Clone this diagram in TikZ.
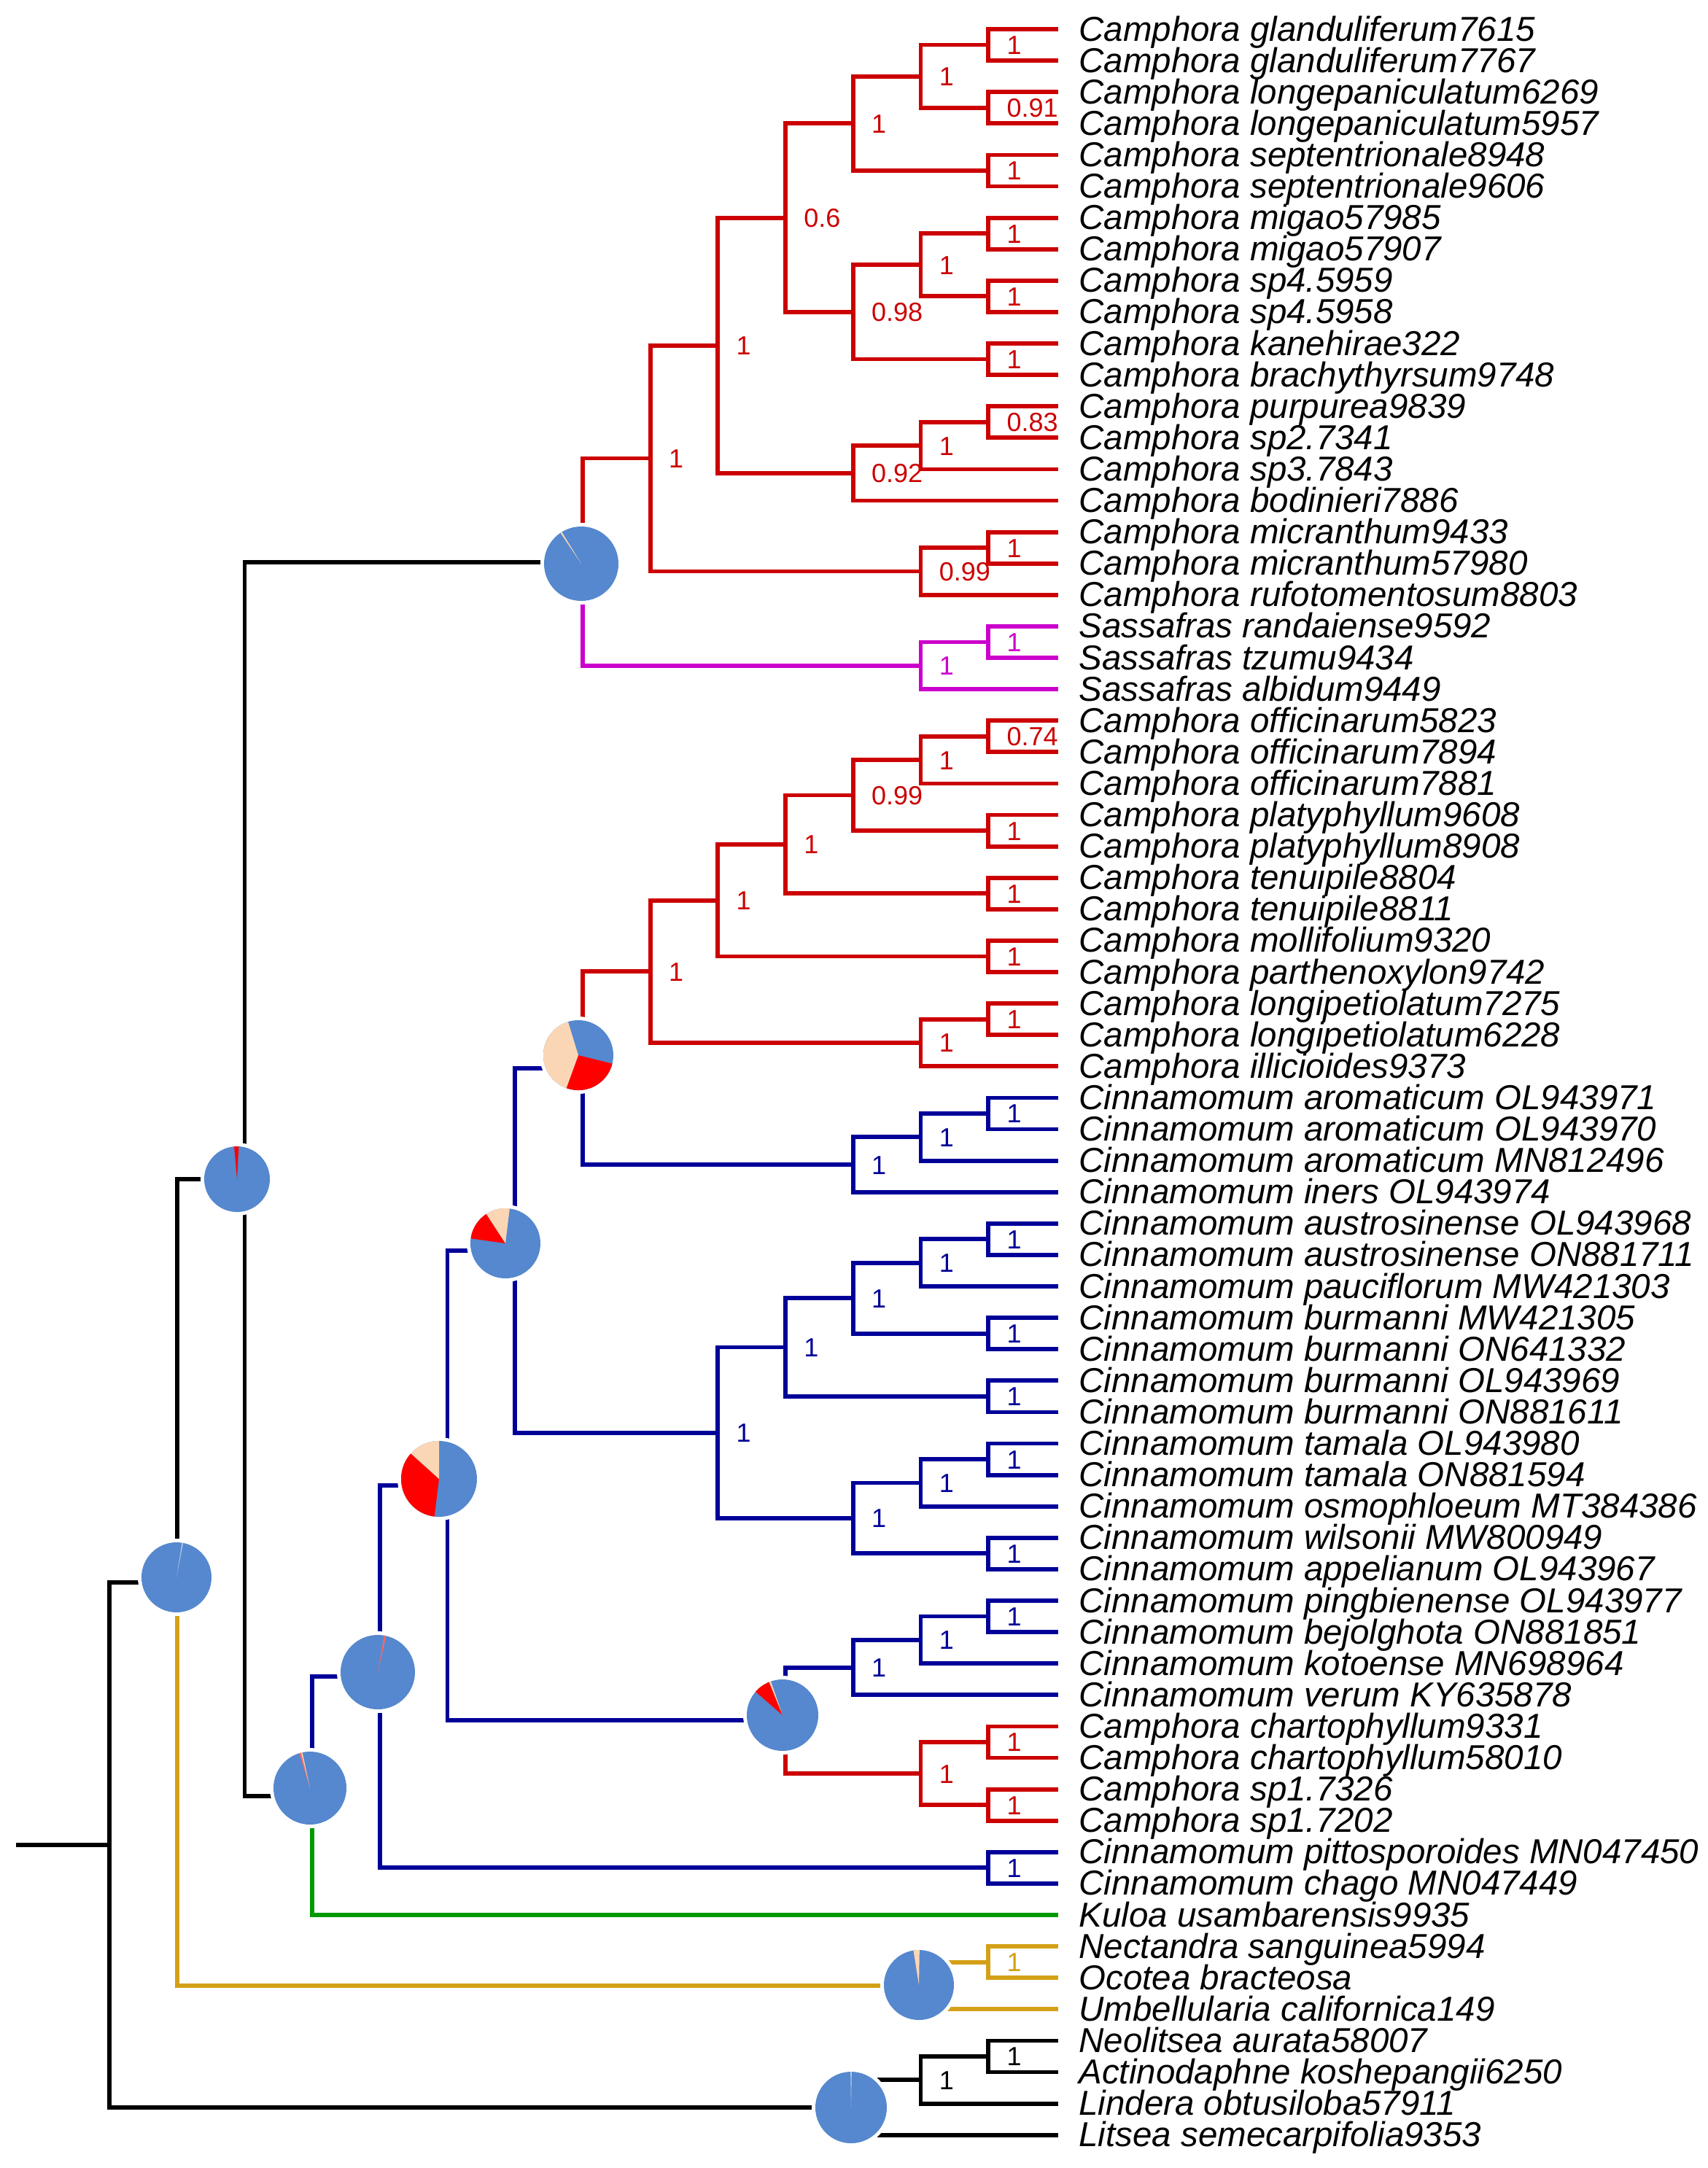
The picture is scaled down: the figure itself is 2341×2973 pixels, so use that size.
\documentclass[tikz,border=0pt]{standalone}
\usepackage{fontspec}
\setmainfont{Liberation Sans}
\usetikzlibrary{calc}
\definecolor{cred}{RGB}{204,0,0}
\definecolor{cblue}{RGB}{0,0,153}
\definecolor{cmag}{RGB}{204,0,204}
\definecolor{cgreen}{RGB}{0,153,0}
\definecolor{cgold}{RGB}{212,160,23}
\definecolor{pblue}{RGB}{85,136,206}
\definecolor{pred}{RGB}{255,0,0}
\definecolor{ppeach}{RGB}{251,214,180}
\tikzset{
  br/.style={line width=2.9pt, line join=miter},
  leaf/.style={font=\fontsize{23.75}{24}\selectfont\itshape, anchor=base west, inner sep=0pt},
  suplab/.style={font=\fontsize{18}{18}\selectfont, inner sep=0pt, anchor=base west}
}
% clade: name, column, child1, child2, colour1, colour2, label, label colour
\newcommand\cl[8]{%
  \path let \p1=(#3), \p2=(#4) in ({(150+92.7*#2)*0.5pt},{0.5*\y1+0.5*\y2}) coordinate (#1);
  \draw[br,#5] (#3) -| (#1);
  \draw[br,#6] (#1) |- (#4);
  \def\tmp{#7}\ifx\tmp\empty\else
  \node[suplab,text=#8] (s-#1) at ([shift={(25,13)}]#1) {#7};
  \fi}
% pie: name, x, y, r, slices (start/end/colour, clockwise from top)
\newcommand\pie[5]{%
  \coordinate (#1) at (#2,#3);
  \fill[white] (#1) circle[radius={(#4+5)*0.5pt}];
  \fill[pblue] (#1) circle[radius={#4*0.5pt}];
  \foreach \a/\b/\c in {#5}{%
    \pgfmathsetmacro\pa{\a-90}\pgfmathsetmacro\pb{\b-90}%
    \fill[\c] (#1) -- plot[domain=\pa:\pb,samples=40,variable=\t] ([shift={(\t:#4)}]#1) -- cycle;
  }}
\begin{document}
\begin{tikzpicture}[x=0.5pt,y=-0.5pt]
\fill[white] (0,0) rectangle (2341,2973);
\useasboundingbox (0,0) rectangle (2341,2973);
\foreach \i/\t in {
1/Camphora glanduliferum7615,
2/Camphora glanduliferum7767,
3/Camphora longepaniculatum6269,
4/Camphora longepaniculatum5957,
5/Camphora septentrionale8948,
6/Camphora septentrionale9606,
7/Camphora migao57985,
8/Camphora migao57907,
9/Camphora sp4.5959,
10/Camphora sp4.5958,
11/Camphora kanehirae322,
12/Camphora brachythyrsum9748,
13/Camphora purpurea9839,
14/Camphora sp2.7341,
15/Camphora sp3.7843,
16/Camphora bodinieri7886,
17/Camphora micranthum9433,
18/Camphora micranthum57980,
19/Camphora rufotomentosum8803,
20/Sassafras randaiense9592,
21/Sassafras tzumu9434,
22/Sassafras albidum9449,
23/Camphora officinarum5823,
24/Camphora officinarum7894,
25/Camphora officinarum7881,
26/Camphora platyphyllum9608,
27/Camphora platyphyllum8908,
28/Camphora tenuipile8804,
29/Camphora tenuipile8811,
30/Camphora mollifolium9320,
31/Camphora parthenoxylon9742,
32/Camphora longipetiolatum7275,
33/Camphora longipetiolatum6228,
34/Camphora illicioides9373,
35/Cinnamomum aromaticum OL943971,
36/Cinnamomum aromaticum OL943970,
37/Cinnamomum aromaticum MN812496,
38/Cinnamomum iners OL943974,
39/Cinnamomum austrosinense OL943968,
40/Cinnamomum austrosinense ON881711,
41/Cinnamomum pauciflorum MW421303,
42/Cinnamomum burmanni MW421305,
43/Cinnamomum burmanni ON641332,
44/Cinnamomum burmanni OL943969,
45/Cinnamomum burmanni ON881611,
46/Cinnamomum tamala OL943980,
47/Cinnamomum tamala ON881594,
48/Cinnamomum osmophloeum MT384386,
49/Cinnamomum wilsonii MW800949,
50/Cinnamomum appelianum OL943967,
51/Cinnamomum pingbienense OL943977,
52/Cinnamomum bejolghota ON881851,
53/Cinnamomum kotoense MN698964,
54/Cinnamomum verum KY635878,
55/Camphora chartophyllum9331,
56/Camphora chartophyllum58010,
57/Camphora sp1.7326,
58/Camphora sp1.7202,
59/Cinnamomum pittosporoides MN047450,
60/Cinnamomum chago MN047449,
61/Kuloa usambarensis9935,
62/Nectandra sanguinea5994,
63/Ocotea bracteosa,
64/Umbellularia californica149,
65/Neolitsea aurata58007,
66/Actinodaphne koshepangii6250,
67/Lindera obtusiloba57911,
68/Litsea semecarpifolia9353}{
  \coordinate (L\i) at (1451,{40+43.1*(\i-1)});
  \node[leaf] (t\i) at (1479,{56+43.1*(\i-1)}) {\t};
}
% Camphora (upper)
\cl{n1_2}{13}{L1}{L2}{cred}{cred}{1}{cred}
\cl{n3_4}{13}{L3}{L4}{cred}{cred}{0.91}{cred}
\cl{n1_4}{12}{n1_2}{n3_4}{cred}{cred}{1}{cred}
\cl{n5_6}{13}{L5}{L6}{cred}{cred}{1}{cred}
\cl{n1_6}{11}{n1_4}{n5_6}{cred}{cred}{1}{cred}
\cl{n7_8}{13}{L7}{L8}{cred}{cred}{1}{cred}
\cl{n9_10}{13}{L9}{L10}{cred}{cred}{1}{cred}
\cl{n7_10}{12}{n7_8}{n9_10}{cred}{cred}{1}{cred}
\cl{n11_12}{13}{L11}{L12}{cred}{cred}{1}{cred}
\cl{n7_12}{11}{n7_10}{n11_12}{cred}{cred}{0.98}{cred}
\cl{n1_12}{10}{n1_6}{n7_12}{cred}{cred}{0.6}{cred}
\cl{n13_14}{13}{L13}{L14}{cred}{cred}{0.83}{cred}
\cl{n13_15}{12}{n13_14}{L15}{cred}{cred}{1}{cred}
\cl{n13_16}{11}{n13_15}{L16}{cred}{cred}{0.92}{cred}
\cl{n1_16}{9}{n1_12}{n13_16}{cred}{cred}{1}{cred}
\cl{n17_18}{13}{L17}{L18}{cred}{cred}{1}{cred}
\cl{n17_19}{12}{n17_18}{L19}{cred}{cred}{0.99}{cred}
\cl{n1_19}{8}{n1_16}{n17_19}{cred}{cred}{1}{cred}
\cl{n20_21}{13}{L20}{L21}{cmag}{cmag}{1}{cmag}
\cl{n20_22}{12}{n20_21}{L22}{cmag}{cmag}{1}{cmag}
\cl{n1_22}{7}{n1_19}{n20_22}{cred}{cmag}{}{}
% Camphora (lower)
\cl{n23_24}{13}{L23}{L24}{cred}{cred}{0.74}{cred}
\cl{n23_25}{12}{n23_24}{L25}{cred}{cred}{1}{cred}
\cl{n26_27}{13}{L26}{L27}{cred}{cred}{1}{cred}
\cl{n23_27}{11}{n23_25}{n26_27}{cred}{cred}{0.99}{cred}
\cl{n28_29}{13}{L28}{L29}{cred}{cred}{1}{cred}
\cl{n23_29}{10}{n23_27}{n28_29}{cred}{cred}{1}{cred}
\cl{n30_31}{13}{L30}{L31}{cred}{cred}{1}{cred}
\cl{n23_31}{9}{n23_29}{n30_31}{cred}{cred}{1}{cred}
\cl{n32_33}{13}{L32}{L33}{cred}{cred}{1}{cred}
\cl{n32_34}{12}{n32_33}{L34}{cred}{cred}{1}{cred}
\cl{n23_34}{8}{n23_31}{n32_34}{cred}{cred}{1}{cred}
% Cinnamomum
\cl{n35_36}{13}{L35}{L36}{cblue}{cblue}{1}{cblue}
\cl{n35_37}{12}{n35_36}{L37}{cblue}{cblue}{1}{cblue}
\cl{n35_38}{11}{n35_37}{L38}{cblue}{cblue}{1}{cblue}
\cl{n23_38}{7}{n23_34}{n35_38}{cred}{cblue}{}{}
\cl{n39_40}{13}{L39}{L40}{cblue}{cblue}{1}{cblue}
\cl{n39_41}{12}{n39_40}{L41}{cblue}{cblue}{1}{cblue}
\cl{n42_43}{13}{L42}{L43}{cblue}{cblue}{1}{cblue}
\cl{n39_43}{11}{n39_41}{n42_43}{cblue}{cblue}{1}{cblue}
\cl{n44_45}{13}{L44}{L45}{cblue}{cblue}{1}{cblue}
\cl{n39_45}{10}{n39_43}{n44_45}{cblue}{cblue}{1}{cblue}
\cl{n46_47}{13}{L46}{L47}{cblue}{cblue}{1}{cblue}
\cl{n46_48}{12}{n46_47}{L48}{cblue}{cblue}{1}{cblue}
\cl{n49_50}{13}{L49}{L50}{cblue}{cblue}{1}{cblue}
\cl{n46_50}{11}{n46_48}{n49_50}{cblue}{cblue}{1}{cblue}
\cl{n39_50}{9}{n39_45}{n46_50}{cblue}{cblue}{1}{cblue}
\cl{n23_50}{6}{n23_38}{n39_50}{cblue}{cblue}{}{}
\cl{n51_52}{13}{L51}{L52}{cblue}{cblue}{1}{cblue}
\cl{n51_53}{12}{n51_52}{L53}{cblue}{cblue}{1}{cblue}
\cl{n51_54}{11}{n51_53}{L54}{cblue}{cblue}{1}{cblue}
\cl{n55_56}{13}{L55}{L56}{cred}{cred}{1}{cred}
\cl{n57_58}{13}{L57}{L58}{cred}{cred}{1}{cred}
\cl{n55_58}{12}{n55_56}{n57_58}{cred}{cred}{1}{cred}
\cl{n51_58}{10}{n51_54}{n55_58}{cblue}{cred}{}{}
\cl{n23_58}{5}{n23_50}{n51_58}{cblue}{cblue}{}{}
\cl{n59_60}{13}{L59}{L60}{cblue}{cblue}{1}{cblue}
\cl{n23_60}{4}{n23_58}{n59_60}{cblue}{cblue}{}{}
\cl{n23_61}{3}{n23_60}{L61}{cblue}{cgreen}{}{}
\cl{n1_61}{2}{n1_22}{n23_61}{black}{black}{}{}
% outgroups
\cl{n62_63}{13}{L62}{L63}{cgold}{cgold}{1}{cgold}
\cl{n62_64}{12}{n62_63}{L64}{cgold}{cgold}{}{}
\cl{n1_64}{1}{n1_61}{n62_64}{black}{cgold}{}{}
\cl{n65_66}{13}{L65}{L66}{black}{black}{1}{black}
\cl{n65_67}{12}{n65_66}{L67}{black}{black}{1}{black}
\cl{n65_68}{11}{n65_67}{L68}{black}{black}{}{}
\cl{root}{0}{n1_64}{n65_68}{black}{black}{}{}
\coordinate (stem) at ([shift={(-128,0)}]root);
\draw[br] (stem) -- (root);
% pies
\pie{p1}{797}{773}{51}{326/328.5/ppeach}
\pie{p2}{325}{1617}{45}{-5/3/pred}
\pie{p3}{242}{2163}{48}{9/11/pblue!45!white}
\pie{p4}{793}{1447}{48}{104/200/pred, 200/343/ppeach}
\pie{p5}{693}{1705}{48}{278/327/pred, 327/367/ppeach}
\pie{p6}{602}{2028}{52}{187/312/pred, 312/360/ppeach}
\pie{p7}{518}{2293}{51}{10/13/pred!60!white}
\pie{p8}{425}{2452}{50}{343/346/pred!60!white, 346/348/ppeach}
\pie{p9}{1073}{2352}{49}{311/338/pred, 338/341/ppeach}
\pie{p10}{1260}{2722}{48}{-9/1/ppeach}
\pie{p11}{1167}{2890}{49}{359/361/pblue!45!white}
\end{tikzpicture}
\end{document}
